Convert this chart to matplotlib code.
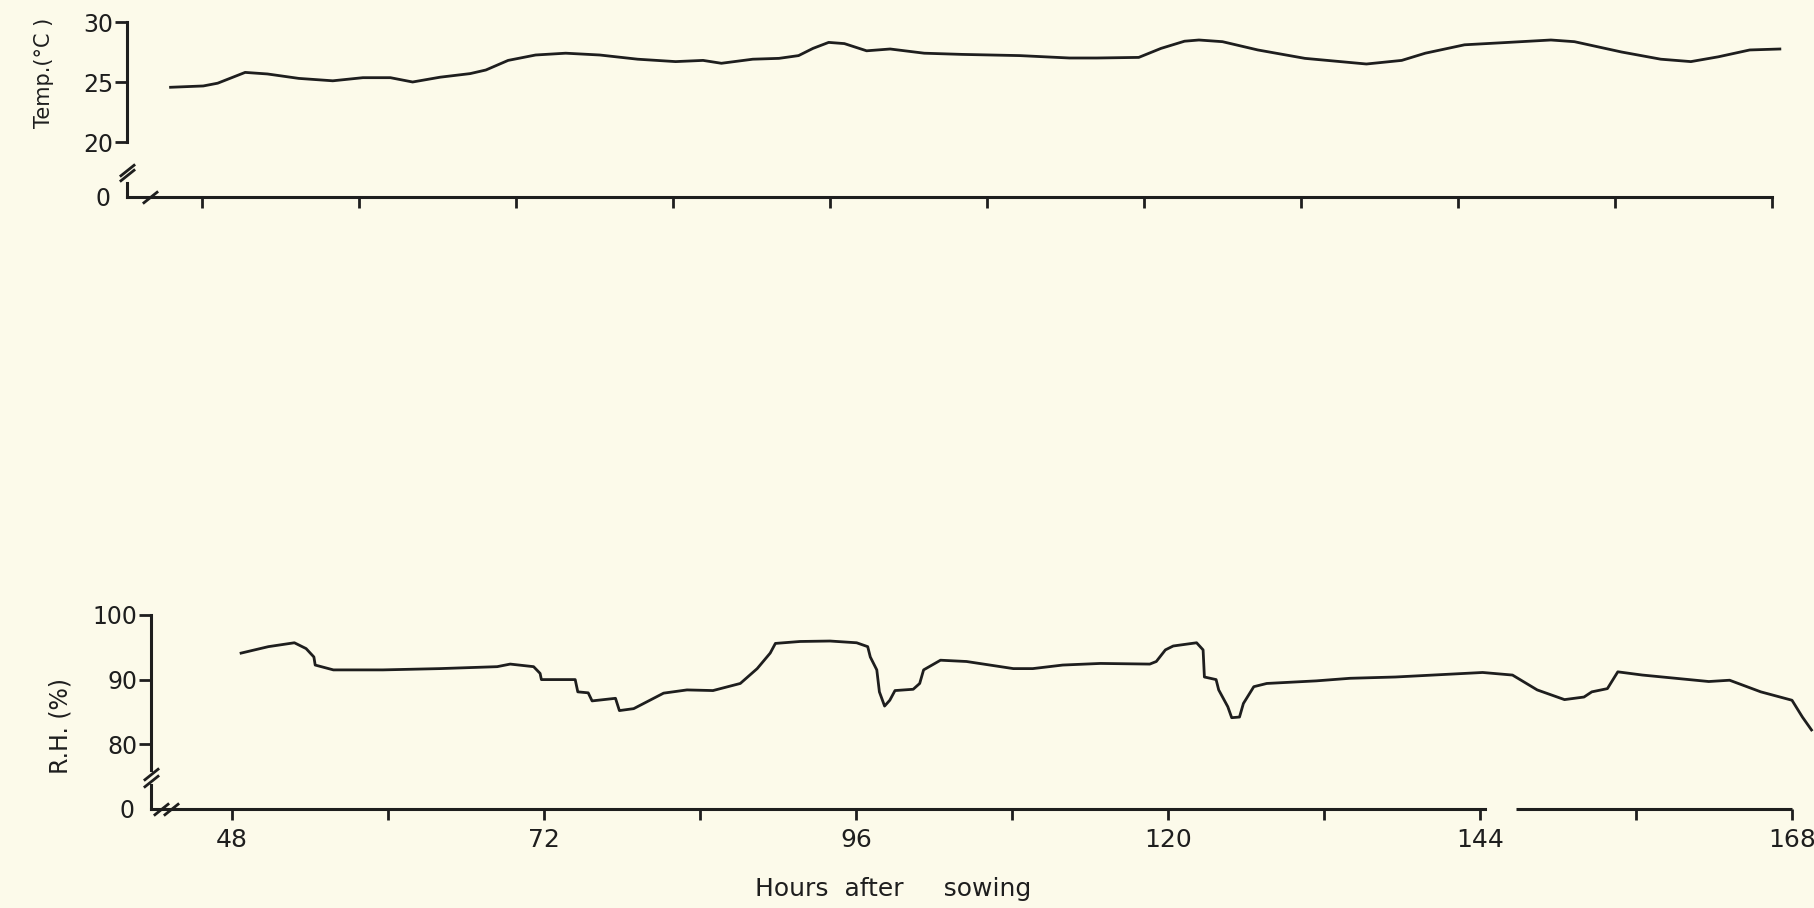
import numpy as np
import matplotlib.pyplot as plt

# air temperature (deg C) against hours after sowing
temp_hours = [45.6, 48.1, 49.2, 51.3, 53.0, 55.4, 58.0, 60.3, 62.4, 64.1,
              66.2, 68.5, 69.7, 71.4, 73.5, 75.8, 78.4, 81.3, 84.2, 86.3,
              87.7, 90.1, 92.1, 93.6, 94.7, 95.9, 97.1, 98.8, 100.6, 103.2,
              106.1, 110.5, 114.3, 116.4, 119.6, 121.3, 123.1, 124.2, 126.0, 128.7,
              132.3, 137.0, 139.7, 141.5, 144.5, 147.5, 151.1, 152.9, 156.5, 159.5,
              161.8, 163.9, 166.3, 168.6]
temp_values = [24.56, 24.67, 24.9, 25.8, 25.67, 25.3, 25.1, 25.36, 25.36, 25.0,
               25.4, 25.7, 26.0, 26.8, 27.25, 27.4, 27.25, 26.9, 26.7, 26.8,
               26.56, 26.9, 26.97, 27.2, 27.8, 28.3, 28.2, 27.6, 27.75, 27.4,
               27.3, 27.2, 27.0, 27.0, 27.05, 27.8, 28.4, 28.5, 28.36, 27.67,
               26.97, 26.5, 26.8, 27.4, 28.1, 28.28, 28.5, 28.36, 27.5, 26.9,
               26.7, 27.1, 27.67, 27.75]

# relative humidity (%) against hours after sowing
rh_hours = [48.7, 50.8, 52.8, 53.7, 54.3, 54.4, 55.8, 59.6, 64.0, 68.4,
            69.4, 71.2, 71.7, 71.8, 74.4, 74.6, 75.4, 75.7, 77.5, 77.8,
            78.9, 81.2, 83.0, 85.0, 87.1, 88.4, 89.4, 89.8, 91.7, 94.0,
            96.05, 96.9, 97.1, 97.6, 97.8, 98.2, 98.6, 99.0, 100.4, 100.9,
            101.2, 102.5, 104.5, 108.1, 109.6, 111.9, 114.8, 118.6, 119.1, 119.8,
            120.4, 122.2, 122.7, 122.8, 123.7, 123.9, 124.6, 124.9, 125.5, 125.8,
            126.6, 127.6, 131.4, 134.0, 137.5, 144.2, 146.5, 148.4, 150.5, 152.0,
            152.6, 153.8, 154.6, 156.5, 161.6, 163.2, 165.6, 168.0, 168.8, 169.5]
rh_values = [94.1, 95.1, 95.7, 94.8, 93.5, 92.25, 91.5, 91.5, 91.7, 92.0,
             92.4, 92.0, 90.96, 90.0, 90.0, 88.1, 87.95, 86.7, 87.1, 85.2,
             85.5, 87.9, 88.4, 88.3, 89.4, 91.7, 94.1, 95.6, 95.9, 95.97,
             95.7, 95.1, 93.5, 91.5, 88.1, 85.9, 86.8, 88.3, 88.5, 89.4,
             91.5, 93.0, 92.8, 91.7, 91.7, 92.25, 92.5, 92.4, 92.8, 94.6,
             95.2, 95.7, 94.6, 90.4, 90.0, 88.4, 85.8, 84.1, 84.2, 86.3,
             88.9, 89.4, 89.8, 90.2, 90.4, 91.1, 90.7, 88.4, 86.9, 87.3,
             88.1, 88.6, 91.2, 90.7, 89.7, 89.9, 88.1, 86.8, 84.2, 82.2]

hour_ticks = [48, 60, 72, 84, 96, 108, 120, 132, 144, 156, 168]
rh_tick_labels = ['48', '', '72', '', '96', '', '120', '', '144', '', '168']
temp_yticks = [20, 25, 30]
rh_yticks = [80, 90, 100]

paper = '#fcfaea'
ink = '#1e1e1e'

plt.rcParams['font.family'] = 'DejaVu Sans'
plt.rcParams['text.color'] = ink
plt.rcParams['axes.linewidth'] = 2.2
plt.rcParams['axes.edgecolor'] = ink

W, H = 1814, 908
fig = plt.figure(figsize=(W / 100, H / 100), dpi=100, facecolor=paper)


def box(x0, y_top, x1, y_bot):
    # pixel box (top-left origin) -> figure fraction rect
    return [x0 / W, 1 - y_bot / H, (x1 - x0) / W, (y_bot - y_top) / H]


def upper(ax, xlim, ylim, yticks):
    ax.set_facecolor('none')
    for s in ['top', 'right', 'bottom']:
        ax.spines[s].set_visible(False)
    ax.set_xlim(*xlim)
    ax.set_ylim(*ylim)
    ax.set_xticks([])
    ax.set_yticks(yticks)
    ax.tick_params(axis='y', direction='out', length=9, width=2, pad=1,
                   colors=ink, labelsize=17)


def lower(ax, xlim, ticks, labels):
    ax.set_facecolor('none')
    for s in ['top', 'right']:
        ax.spines[s].set_visible(False)
    ax.set_xlim(*xlim)
    ax.set_ylim(0, 1)
    ax.set_yticks([0])
    ax.set_yticklabels(['0'])
    ax.tick_params(axis='y', length=0, pad=12, colors=ink, labelsize=17)
    ax.set_xticks(ticks)
    ax.set_xticklabels(labels)
    ax.tick_params(axis='x', direction='out', length=8, width=2, pad=6,
                   colors=ink, labelsize=18)


brk = dict(marker=[(-1, -0.8), (1, 0.8)], markersize=11, linestyle='none',
           color=ink, mec=ink, mew=2, clip_on=False)

# ---- temperature panel ----
t_xlim = (42.27, 168)
t_hi = fig.add_axes(box(127, 22, 1772, 142))
t_lo = fig.add_axes(box(127, 183, 1772, 197))
upper(t_hi, t_xlim, (20, 30), temp_yticks)
lower(t_lo, t_xlim, hour_ticks, [''] * len(hour_ticks))
t_hi.plot(temp_hours, temp_values, color=ink, lw=2.0, clip_on=False,
          solid_joinstyle='round')

t_lo.plot([0, 0], [1.55, 1.9], transform=t_lo.transAxes, **brk)
t_lo.plot([0.014], [0], transform=t_lo.transAxes, **brk)

# ---- relative humidity panel ----
r_xlim = (41.77, 168)
r_hi = fig.add_axes(box(151, 615, 1792, 770))
r_lo = fig.add_axes(box(151, 785, 1792, 809))
upper(r_hi, r_xlim, (76, 100), rh_yticks)
lower(r_lo, r_xlim, hour_ticks, rh_tick_labels)
r_hi.plot(rh_hours, rh_values, color=ink, lw=2.0, clip_on=False,
          solid_joinstyle='round')

# gap in the hand drawn axis just after 144 h
r_lo.spines['bottom'].set_bounds(r_xlim[0], 144.4)
r_lo.plot([146.8, 168], [0, 0], color=ink, lw=2.2, clip_on=False,
          solid_capstyle='butt')

r_lo.plot([0, 0], [1.15, 1.45], transform=r_lo.transAxes, **brk)
r_lo.plot([0.006, 0.012], [0, 0], transform=r_lo.transAxes, **brk)

# axis titles
fig.text(44 / W, 1 - 73 / H, 'Temp.(°C )', rotation=90, ha='center',
         va='center', fontsize=15)
fig.text(61 / W, 1 - 726 / H, 'R.H. (%)', rotation=90, ha='center',
         va='center', fontsize=17)
fig.text(893 / W, 1 - 889 / H, 'Hours  after     sowing', ha='center',
         va='center', fontsize=18)

fig.savefig('out.png', dpi=100, facecolor=paper)
